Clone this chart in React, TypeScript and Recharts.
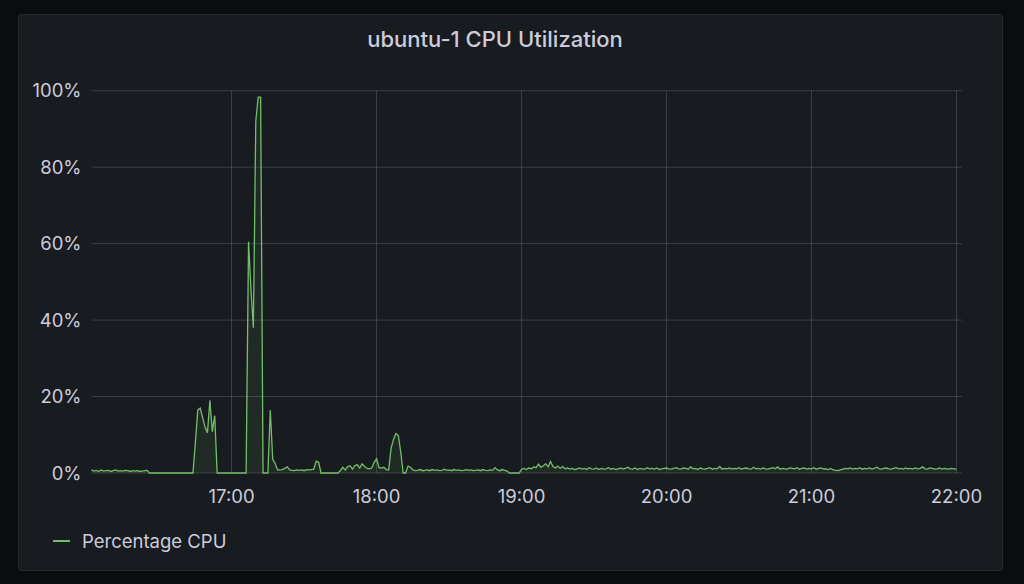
import { AreaChart, Area, XAxis, YAxis, CartesianGrid } from "recharts";

const title = "ubuntu-1 CPU Utilization";
const seriesName = "Percentage CPU";

// minutes after 16:00, one sample per minute starting at 16:02
const startMinute = 2;

// CPU %, one value per minute
const cpuPercent = [
  // 16:02 - 16:25
  0.8, 0.5, 0.7, 0.4, 0.8, 0.5, 0.6, 0.7, 0.4, 0.6, 0.8, 0.5, 0.6, 0.5, 0.7, 0.6, 0.4, 0.6, 0.5, 0.6, 0.4, 0.5, 0.6, 0.7,
  // 16:26 - 16:43
  0, 0, 0, 0, 0, 0, 0, 0, 0, 0, 0, 0, 0, 0, 0, 0, 0, 0,
  // 16:44 - 16:54
  0, 8, 16.5, 17, 14.5, 12, 10.5, 19, 10.8, 15, 0,
  // 16:55 - 17:06
  0, 0, 0, 0, 0, 0, 0, 0, 0, 0, 0, 0,
  // 17:07 - 17:18
  60.5, 48, 38, 92, 98.3, 98.3, 0, 0, 0, 16.5, 3.6, 2.5,
  // 17:19 - 17:36
  0.8, 0.8, 0.9, 1.2, 1.6, 0.8, 0.7, 0.6, 0.8, 0.7, 0.8, 0.6, 0.9, 0.8, 0.9, 1.0, 3.1, 2.8,
  // 17:37 - 17:44
  0, 0, 0, 0, 0, 0, 0, 0,
  // 17:45 - 18:04
  0.6, 1.5, 0.8, 1.6, 1.9, 1.0, 1.9, 2.2, 1.3, 2.4, 1.7, 1.2, 1.1, 1.3, 2.8, 3.7, 1.4, 1.3, 1.5, 0.9,
  // 18:05 - 18:14
  0.8, 6.5, 8.8, 10.3, 9.8, 5.5, 0, 0, 1.8, 1.5,
  // 18:15 - 18:54
  0.8, 0.6, 0.7, 0.9, 0.6, 0.7, 0.8, 0.6, 0.9, 0.7, 0.8, 0.6, 0.7, 1.0, 0.7, 0.8, 0.6, 0.9, 0.7, 0.8,
  0.6, 0.7, 0.9, 0.7, 0.8, 0.6, 0.7, 0.8, 0.6, 0.9, 0.7, 0.6, 0.8, 0.7, 1.4, 0.8, 0.6, 0.9, 0.7, 0.5,
  // 18:55 - 18:59
  0, 0, 0, 0, 0,
  // 19:00 - 19:59
  1.0, 1.2, 0.9, 1.3, 1.1, 1.6, 1.4, 2.3, 1.5, 1.9, 2.4, 1.6, 3.0, 1.7, 1.3, 1.8, 1.2, 1.7, 1.1, 1.3,
  1.0, 1.2, 0.9, 1.1, 1.3, 1.0, 1.2, 0.9, 1.4, 1.1, 1.0, 1.3, 0.9, 1.2, 1.0, 1.1, 1.4, 1.0, 1.2, 0.9,
  1.1, 1.3, 1.0, 1.2, 1.5, 1.1, 1.0, 1.3, 0.9, 1.2, 1.1, 1.0, 1.4, 1.1, 1.2, 1.0, 1.3, 0.9, 1.1, 1.2,
  // 20:00 - 20:59
  1.3, 1.1, 1.0, 1.2, 1.4, 1.1, 1.0, 1.3, 1.2, 1.0, 1.6, 1.1, 1.2, 0.9, 1.3, 1.1, 1.0, 1.2, 1.4, 1.0,
  1.2, 1.1, 1.7, 1.0, 1.2, 1.1, 1.3, 1.0, 1.2, 1.1, 1.4, 1.0, 1.2, 1.3, 1.1, 1.0, 1.5, 1.1, 1.2, 1.0,
  1.3, 1.1, 1.0, 1.2, 1.4, 1.1, 1.6, 1.0, 1.2, 1.1, 1.0, 1.3, 1.2, 1.1, 1.4, 1.0, 1.2, 1.3, 1.0, 1.2,
  // 21:00 - 22:00
  1.1, 1.4, 1.0, 1.2, 1.3, 1.0, 1.1, 0.9, 1.2, 0.8, 0.7, 0.6, 0.8, 1.0, 1.2, 1.1, 1.3, 1.0, 1.2, 1.1,
  1.4, 1.0, 1.2, 1.1, 1.3, 1.0, 1.2, 1.5, 1.1, 1.0, 1.2, 1.3, 1.1, 1.0, 1.2, 1.4, 1.1, 1.2, 1.0, 1.3,
  1.1, 1.2, 1.0, 1.3, 1.1, 1.2, 1.6, 1.1, 1.0, 1.3, 1.2, 1.0, 1.1, 1.3, 1.0, 1.2, 1.1, 1.0, 1.2, 1.1,
  1.0,
];

const timeTicks = [60, 120, 180, 240, 300, 360];
const timeLabels = ["17:00", "18:00", "19:00", "20:00", "21:00", "22:00"];
const percentTicks = [0, 20, 40, 60, 80, 100];
const timeDomain = [2.07, 362.3];

const data = cpuPercent.map((v, i) => ({ t: startMinute + i, cpu: v }));

const textColor = "#ccccdc";
const green = "#73bf69";
const font = "Inter, Roboto, sans-serif";

export default function App() {
  return (
    <div
      style={{
        position: "fixed",
        left: 0,
        top: 0,
        width: 1024,
        height: 584,
        background: "#0b0c0e",
        fontFamily: font,
        overflow: "hidden",
      }}
    >
      <div
        style={{
          position: "absolute",
          left: 18,
          top: 14,
          width: 983,
          height: 555,
          background: "#181b1f",
          border: "1px solid #24272c",
          borderRadius: 3,
        }}
      />
      <div
        style={{
          position: "absolute",
          left: 495,
          top: 26,
          transform: "translateX(-50%)",
          color: textColor,
          fontSize: 22,
          fontWeight: 500,
          lineHeight: "26px",
          whiteSpace: "nowrap",
        }}
      >
        {title}
      </div>

      <div style={{ position: "absolute", left: 0, top: 0 }}>
        <AreaChart
          width={1024}
          height={584}
          data={data}
          margin={{ top: 90.7, right: 62, bottom: 81, left: 0 }}
        >
          <CartesianGrid
            stroke="rgba(240,250,255,0.16)"
            strokeWidth={1}
            verticalCoordinatesGenerator={({ offset }: any) =>
              timeTicks.map(
                (t) =>
                  offset.left +
                  ((t - timeDomain[0]) / (timeDomain[1] - timeDomain[0])) * offset.width
              )
            }
          />
          <XAxis
            dataKey="t"
            type="number"
            domain={timeDomain}
            ticks={timeTicks}
            tickFormatter={(v) => timeLabels[timeTicks.indexOf(v)]}
            axisLine={false}
            tickLine={false}
            tickMargin={11}
            height={30}
            tick={{ fill: textColor, fontSize: 18.5, fontFamily: font }}
          />
          <YAxis
            type="number"
            domain={[0, 100]}
            ticks={percentTicks}
            tickFormatter={(v) => `${v}%`}
            axisLine={false}
            tickLine={false}
            tickMargin={4}
            width={91.5}
            tick={{ fill: textColor, fontSize: 18.5, fontFamily: font }}
          />
          <Area
            type="linear"
            dataKey="cpu"
            name={seriesName}
            stroke={green}
            strokeWidth={1.3}
            fill={green}
            fillOpacity={0.1}
            dot={false}
            activeDot={false}
            isAnimationActive={false}
          />
        </AreaChart>
      </div>

      <div
        style={{
          position: "absolute",
          left: 53,
          top: 528,
          display: "flex",
          alignItems: "center",
          color: textColor,
          fontSize: 18.5,
          lineHeight: "26px",
        }}
      >
        <span
          style={{
            display: "inline-block",
            width: 17,
            height: 2,
            background: green,
            marginRight: 12,
          }}
        />
        {seriesName}
      </div>
    </div>
  );
}
